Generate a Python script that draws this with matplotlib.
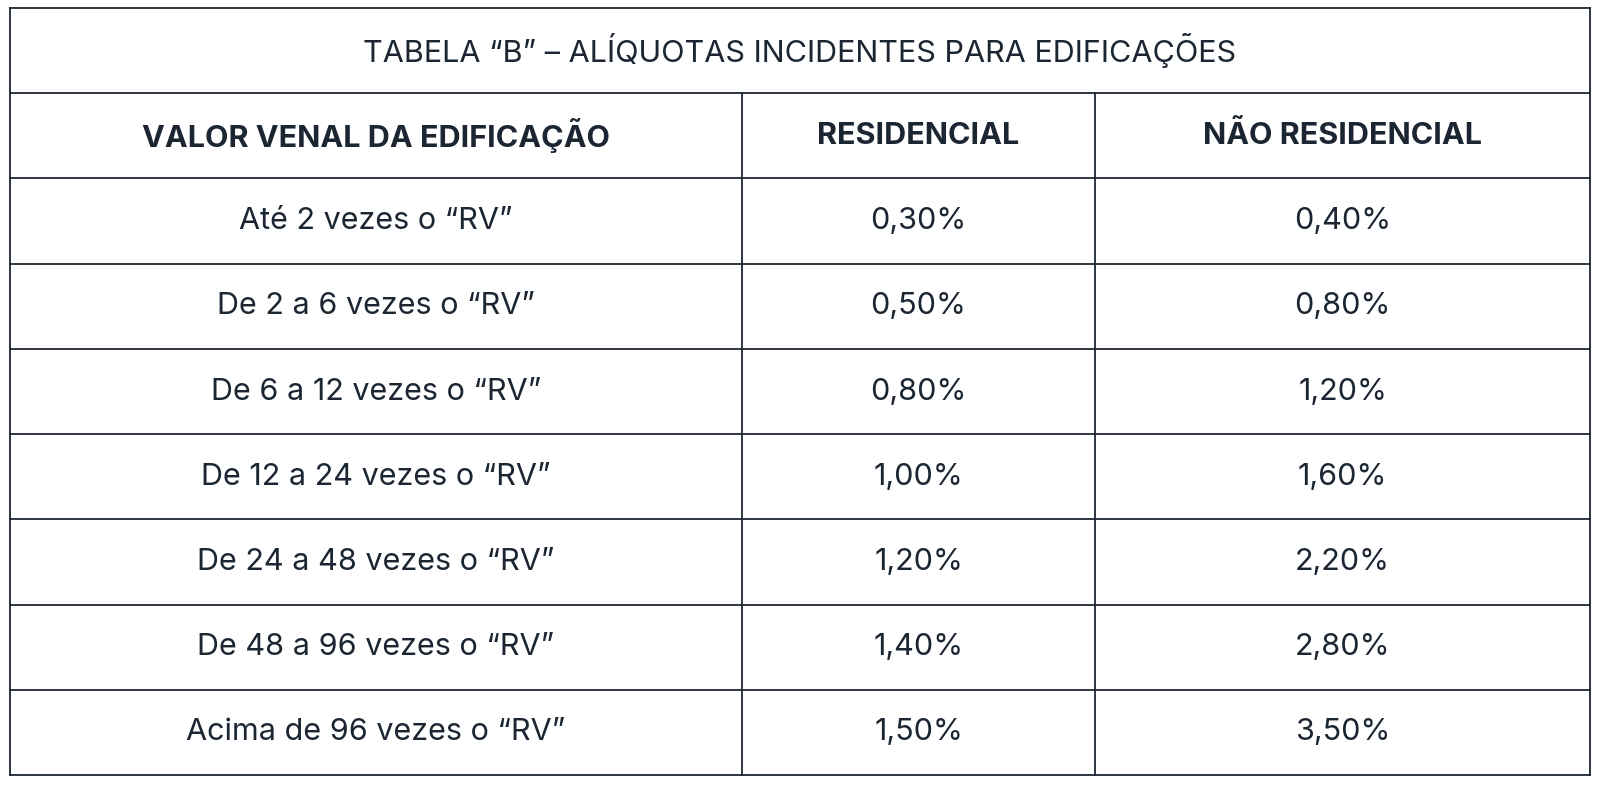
import matplotlib.pyplot as plt

title = "TABELA “B” – ALÍQUOTAS INCIDENTES PARA EDIFICAÇÕES"
headers = ["VALOR VENAL DA EDIFICAÇÃO", "RESIDENCIAL", "NÃO RESIDENCIAL"]
faixas = ["Até 2 vezes o “RV”", "De 2 a 6 vezes o “RV”", "De 6 a 12 vezes o “RV”",
          "De 12 a 24 vezes o “RV”", "De 24 a 48 vezes o “RV”", "De 48 a 96 vezes o “RV”",
          "Acima de 96 vezes o “RV”"]
residencial = ["0,30%", "0,50%", "0,80%", "1,00%", "1,20%", "1,40%", "1,50%"]
nao_residencial = ["0,40%", "0,80%", "1,20%", "1,60%", "2,20%", "2,80%", "3,50%"]

plt.rcParams['font.family'] = ['Inter', 'DejaVu Sans']
col = '#1c2633'

fig = plt.figure(figsize=(16, 7.97), dpi=100)
ax = fig.add_axes([0, 0, 1, 1])
ax.set_xlim(0, 1600)
ax.set_ylim(797, 0)
ax.axis('off')

left, right = 10, 1590
xs = [left, 742, 1095, right]
top = 8
row_h = (775 - top) / 9
ys = [top + i * row_h for i in range(10)]

# outer border and horizontal lines
for y in ys:
    ax.plot([left, right], [y, y], color=col, lw=1.3)
ax.plot([left, left], [ys[0], ys[-1]], color=col, lw=1.3)
ax.plot([right, right], [ys[0], ys[-1]], color=col, lw=1.3)
for x in xs[1:3]:
    ax.plot([x, x], [ys[1], ys[-1]], color=col, lw=1.3)

centers = [(xs[i] + xs[i + 1]) / 2 for i in range(3)]
ax.text((left + right) / 2, (ys[0] + ys[1]) / 2, title, ha='center', va='center',
        fontsize=22, color=col)
for c, h in zip(centers, headers):
    ax.text(c, (ys[1] + ys[2]) / 2, h, ha='center', va='center', fontsize=22,
            fontweight='bold', color=col)
for i, row in enumerate(zip(faixas, residencial, nao_residencial)):
    yc = (ys[i + 2] + ys[i + 3]) / 2
    for c, t in zip(centers, row):
        ax.text(c, yc, t, ha='center', va='center', fontsize=22, color=col)

fig.savefig('out.png', dpi=100, facecolor='white')
